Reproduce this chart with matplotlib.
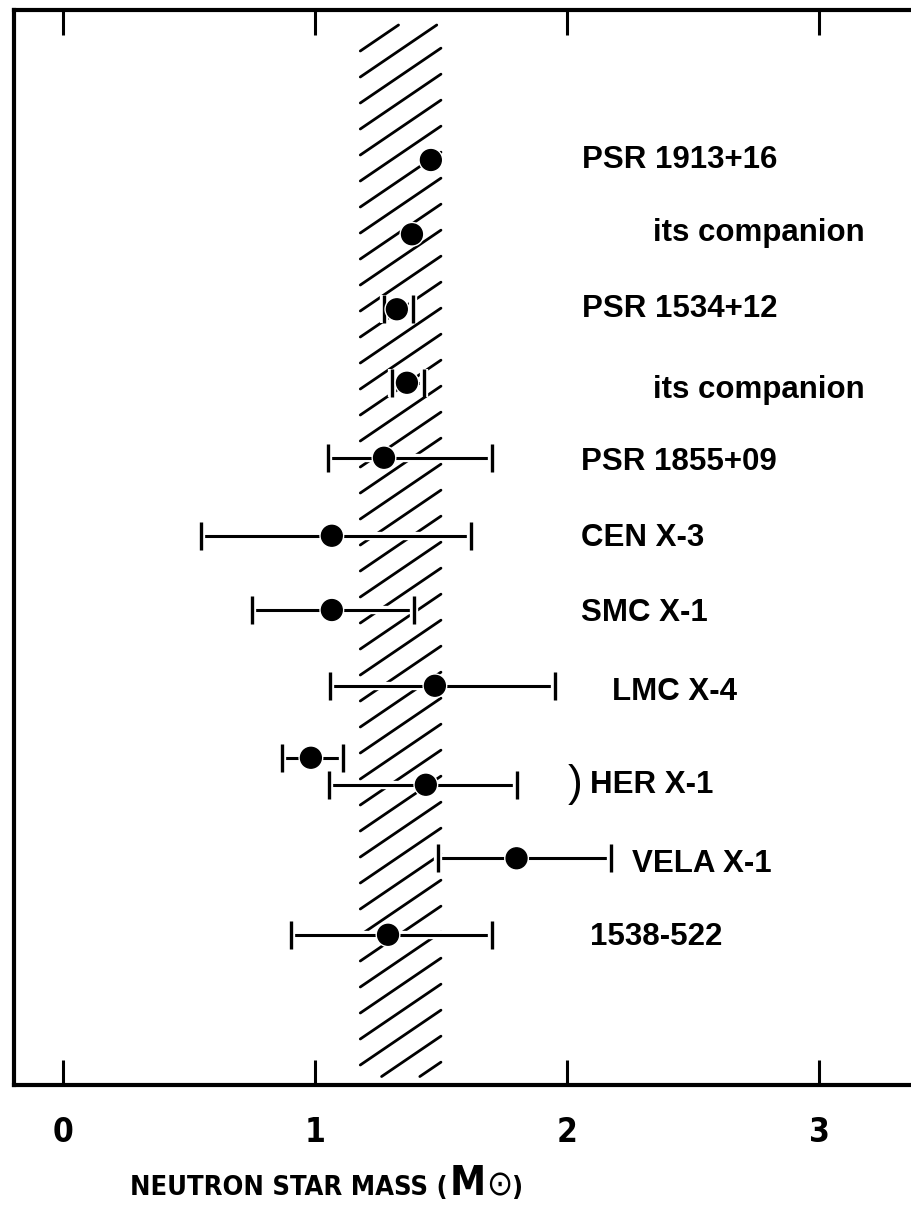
import matplotlib
matplotlib.use("Agg")
import matplotlib.pyplot as plt
import matplotlib.patheffects as pe
import numpy as np

# ---- data -------------------------------------------------------------
labels = ["PSR 1913+16", "its companion", "PSR 1534+12", "its companion",
          "PSR 1855+09", "CEN X-3", "SMC X-1", "LMC X-4", "HER X-1",
          "VELA X-1", "1538-522"]
label_rows = [0.0, 0.97, 1.99, 3.07, 4.03, 5.04, 6.04, 7.09, 8.33, 9.39, 10.36]
label_x = [2.06, 2.34, 2.06, 2.34, 2.055, 2.055, 2.055, 2.18, 2.09, 2.26, 2.09]

# measured masses (solar masses); None = no error bar drawn
point_rows = [0.0, 0.99, 1.99, 2.97, 3.97, 5.01, 6.0, 7.01, 7.97, 8.33, 9.31, 10.33]
mass = [1.46, 1.385, 1.325, 1.365, 1.274, 1.067, 1.067, 1.476, 0.984, 1.44, 1.80, 1.29]
mass_lo = [None, None, 1.274, 1.306, 1.052, 0.548, 0.75, 1.06, 0.869, 1.056, 1.488, 0.905]
mass_hi = [None, None, 1.389, 1.433, 1.702, 1.619, 1.393, 1.952, 1.111, 1.802, 2.175, 1.702]

band = (1.18, 1.50)          # shaded range of neutron star masses
xticks = [0, 1, 2, 3]

# ---- figure -----------------------------------------------------------
W, H = 912, 1211
fig = plt.figure(figsize=(W / 100, H / 100), dpi=100)
ax = fig.add_axes([14 / W, 1 - 1085 / H, 1 - 14 / W, (1085 - 10) / H])

xlim = (-0.194, 3.369)
ylim = (12.333, -2.0)
ax.set_xlim(*xlim)
ax.set_ylim(*ylim)

for side in ("left", "top", "bottom"):
    ax.spines[side].set_linewidth(3.0)
ax.spines["right"].set_visible(False)

narrow = ["Liberation Sans Narrow", "DejaVu Sans"]

ax.set_yticks([])
ax.set_xticks(xticks)
ax.set_xticklabels([str(t) for t in xticks])
ax.tick_params(axis="x", which="both", direction="in", top=True, bottom=True,
               length=18, width=2.2, pad=22, labelsize=24)
for lab in ax.get_xticklabels():
    lab.set_fontfamily(narrow)
    lab.set_fontstretch("condensed")
    lab.set_fontweight("bold")

# ---- hatched band -----------------------------------------------------
px_x = (ax.get_position().width * W) / (xlim[1] - xlim[0])   # pixels per mass unit
px_y = (ax.get_position().height * H) / (ylim[0] - ylim[1])  # pixels per row
slope = -0.68 * px_x / px_y            # rows per mass unit (up-right lines)
spacing = 26.0 / px_y                  # vertical spacing of hatch lines in rows
y_top, y_bot = -1.8, 12.22
x0, x1 = band
c = y_top
while c < y_bot + (x1 - x0) * abs(slope):
    xs = np.array([x0, x1])
    ys = c + slope * (xs - x0)
    if ys[0] > y_bot:
        xs[0] = x0 + (y_bot - c) / slope
        ys[0] = y_bot
    if ys[1] < y_top:
        xs[1] = x0 + (y_top - c) / slope
        ys[1] = y_top
    if xs[1] > xs[0]:
        ax.plot(xs, ys, color="black", lw=2.0, solid_capstyle="round", zorder=1)
    c += spacing

# ---- data points ------------------------------------------------------
halo = [pe.Stroke(linewidth=6, foreground="white"), pe.Normal()]
for r, m, lo, hi in zip(point_rows, mass, mass_lo, mass_hi):
    if lo is not None:
        eb = ax.errorbar([m], [r], xerr=[[m - lo], [hi - m]], fmt="none",
                         ecolor="black", elinewidth=2.2, capsize=10,
                         capthick=2.4, zorder=3)
        for ln in eb.lines[1]:
            ln.set_path_effects(halo)
        for col in eb.lines[2]:
            col.set_path_effects(halo)
    ax.plot([m], [r], "o", color="black", ms=15, zorder=4,
            path_effects=[pe.Stroke(linewidth=3, foreground="white"), pe.Normal()])

# ---- labels -----------------------------------------------------------
lab_font = ["Liberation Sans", "DejaVu Sans"]
for txt, r, x in zip(labels, label_rows, label_x):
    ax.text(x, r, txt, fontsize=22.5, fontweight="bold", family=lab_font,
            ha="left", va="center")
her = labels.index("HER X-1")
ax.text(label_x[her] - 0.03, label_rows[her], ")", fontsize=32,
        family=lab_font, ha="right", va="center")

# ---- axis title, laid out piece by piece --------------------------------
fig.canvas.draw()
renderer = fig.canvas.get_renderer()
pieces = [("NEUTRON STAR MASS (", 19.5, "bold", narrow, 0, 2),
          ("M", 29, "bold", narrow, 0, 0),
          ("\u2299", 25, "normal", ["DejaVu Sans"], 0, -1),
          (")", 19.5, "bold", narrow, 0, 0)]
x_px = 130.0
base_px = 1195.0
for txt, size, weight, fam, dy, gap in pieces:
    t = fig.text(x_px / W, 1 - (base_px - dy) / H, txt, fontsize=size,
                 fontweight=weight, family=fam, fontstretch="condensed",
                 ha="left", va="baseline")
    bb = t.get_window_extent(renderer)
    x_px += bb.width + gap

fig.savefig("out.png", dpi=100)
